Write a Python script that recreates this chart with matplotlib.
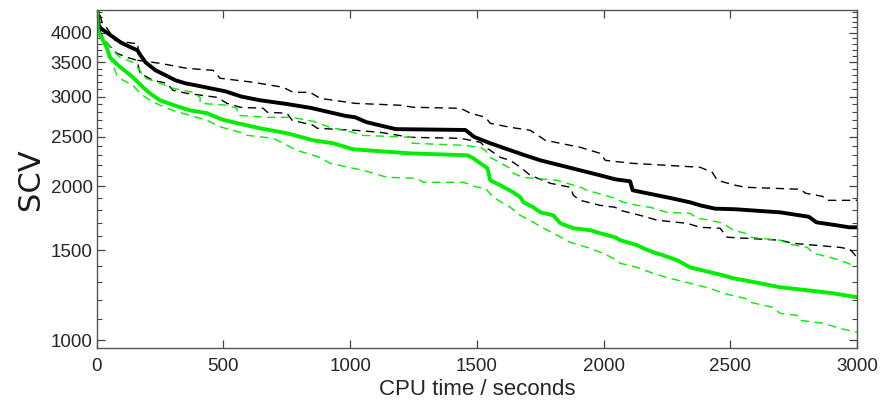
import numpy as np
import matplotlib
matplotlib.use("Agg")
import matplotlib.pyplot as plt
from matplotlib.ticker import FixedLocator, NullFormatter

# black: median and spread (dashed)
blk_x = [0, 8, 16, 55, 94, 134, 161, 173, 193, 232, 272, 311, 350, 390, 449, 508,
         570, 644, 751, 845, 912, 980, 1020, 1065, 1180, 1455, 1490, 1553, 1632, 1690,
         1751, 1830, 1908, 1987, 2046, 2105, 2115, 2212, 2270, 2342, 2385, 2440, 2520,
         2697, 2810, 2840, 2920, 2970, 3000]
blk_y = [4600, 4134, 4079, 3954, 3830, 3745, 3694, 3612, 3499, 3376, 3301, 3227, 3184,
         3156, 3113, 3071, 3000, 2950, 2900, 2850, 2800, 2750, 2732, 2672, 2590, 2580,
         2500, 2430, 2355, 2302, 2250, 2200, 2151, 2103, 2066, 2047, 1966, 1922, 1896,
         1862, 1835, 1810, 1805, 1780, 1745, 1702, 1679, 1664, 1664]

blk_hi_x = [0, 21, 41, 72, 143, 163, 163, 250, 356, 459, 487, 617, 736, 775, 842, 882,
            1020, 1198, 1250, 1436, 1475, 1534, 1553, 1632, 1711, 1770, 1829, 1908, 1987,
            2007, 2113, 2381, 2429, 2449, 2520, 2560, 2777, 2797, 2864, 2879, 3000]
blk_hi_y = [4600, 4191, 4079, 3865, 3813, 3813, 3531, 3484, 3406, 3376, 3257, 3199, 3127,
            3057, 3057, 2975, 2909, 2884, 2858, 2845, 2782, 2732, 2659, 2611, 2576, 2463,
            2430, 2386, 2322, 2250, 2220, 2181, 2132, 2056, 2011, 1993, 1975, 1940, 1913,
            1879, 1879]

blk_lo_x = [0, 16, 41, 80, 120, 159, 171, 222, 277, 301, 356, 475, 514, 566, 657, 673,
            751, 771, 854, 870, 1020, 1119, 1238, 1435, 1475, 1514, 1534, 1553, 1593, 1632,
            1672, 1711, 1790, 1869, 1881, 1908, 1987, 2046, 2066, 2145, 2212, 2330, 2381,
            2460, 2488, 2559, 2697, 2748, 2934, 2973, 3000]
blk_lo_y = [4600, 3990, 3813, 3644, 3579, 3531, 3331, 3227, 3184, 3085, 3043, 2989, 2909,
            2858, 2845, 2795, 2782, 2696, 2635, 2600, 2576, 2553, 2496, 2485, 2463, 2441,
            2386, 2354, 2280, 2250, 2181, 2103, 2029, 1993, 1922, 1879, 1837, 1821, 1796,
            1756, 1718, 1694, 1664, 1657, 1591, 1584, 1570, 1548, 1520, 1507, 1453]

# green: median and spread (dashed)
grn_x = [0, 5, 13, 21, 41, 52, 80, 104, 143, 183, 210, 250, 317, 368, 435, 494, 538,
         644, 751, 854, 933, 1012, 1119, 1238, 1463, 1486, 1514, 1542, 1553, 1593, 1644,
         1672, 1684, 1723, 1751, 1802, 1830, 1881, 1948, 1987, 2046, 2066, 2133, 2157,
         2196, 2236, 2291, 2342, 2421, 2472, 2512, 2559, 2618, 2697, 2804, 2906, 3000]
grn_y = [4600, 4008, 3950, 3899, 3728, 3579, 3469, 3392, 3271, 3127, 3043, 2949, 2871,
         2819, 2782, 2706, 2672, 2600, 2542, 2463, 2430, 2365, 2344, 2322, 2302, 2271,
         2220, 2171, 2056, 2011, 1948, 1905, 1863, 1821, 1780, 1756, 1694, 1657, 1642,
         1620, 1591, 1570, 1535, 1514, 1487, 1467, 1434, 1389, 1359, 1340, 1322, 1310,
         1293, 1270, 1253, 1236, 1214]

grn_hi_x = [0, 13, 41, 64, 92, 143, 171, 183, 250, 301, 380, 408, 408, 514, 553, 557,
            672, 771, 790, 854, 921, 1012, 1040, 1245, 1245, 1447, 1514, 1534, 1553, 1632,
            1644, 1684, 1818, 1842, 1909, 1936, 2046, 2078, 2133, 2184, 2251, 2342, 2369,
            2421, 2472, 2512, 2559, 2579, 2697, 2737, 2804, 2828, 2895, 2934, 2973, 3000]
grn_hi_y = [4600, 3990, 3813, 3694, 3579, 3499, 3376, 3271, 3184, 3113, 3057, 2989, 2909,
            2884, 2845, 2756, 2732, 2732, 2719, 2683, 2611, 2553, 2519, 2496, 2430, 2408,
            2386, 2354, 2280, 2171, 2122, 2084, 2056, 2038, 1993, 1966, 1896, 1863, 1837,
            1821, 1780, 1772, 1733, 1718, 1694, 1642, 1620, 1591, 1570, 1541, 1520, 1480,
            1453, 1434, 1409, 1396]

grn_lo_x = [0, 13, 33, 52, 64, 80, 104, 143, 171, 210, 250, 301, 368, 435, 475, 494,
            566, 593, 696, 751, 790, 881, 921, 1012, 1052, 1119, 1147, 1265, 1289, 1447,
            1502, 1534, 1565, 1632, 1672, 1723, 1763, 1802, 1869, 1936, 1999, 2046, 2066,
            2133, 2196, 2263, 2342, 2421, 2472, 2559, 2579, 2669, 2697, 2764, 2776, 2867,
            2934, 3000]
grn_lo_y = [4600, 3917, 3779, 3612, 3453, 3301, 3227, 3156, 3043, 2949, 2884, 2819, 2756,
            2696, 2635, 2611, 2553, 2519, 2485, 2408, 2354, 2280, 2220, 2171, 2151, 2103,
            2084, 2075, 2038, 2038, 1993, 1984, 1905, 1821, 1756, 1702, 1657, 1620, 1555,
            1520, 1480, 1440, 1415, 1389, 1352, 1322, 1293, 1264, 1236, 1208, 1187, 1160,
            1129, 1119, 1094, 1080, 1055, 1037]

x_ticks = [0, 500, 1000, 1500, 2000, 2500, 3000]
y_ticks = [1000, 1500, 2000, 2500, 3000, 3500, 4000]

plt.rcParams['font.family'] = ['Liberation Sans', 'DejaVu Sans']

fig = plt.figure(figsize=(8.83, 4.17), dpi=100)
ax = fig.add_axes([0.1095, 0.1655, 0.861, 0.8105])

green = '#00ee00'
ax.plot(blk_hi_x, blk_hi_y, color='k', lw=1.0, dashes=(6, 4))
ax.plot(blk_lo_x, blk_lo_y, color='k', lw=1.0, dashes=(6, 4))
ax.plot(grn_hi_x, grn_hi_y, color=green, lw=1.0, dashes=(6, 4))
ax.plot(grn_lo_x, grn_lo_y, color=green, lw=1.0, dashes=(6, 4))
ax.plot(blk_x, blk_y, color='k', lw=2.8)
ax.plot(grn_x, grn_y, color=green, lw=2.8)

ax.set_yscale('log')
ax.set_xlim(0, 3000)
ax.set_ylim(966, 4430)

ax.xaxis.set_major_locator(FixedLocator(x_ticks))
ax.yaxis.set_major_locator(FixedLocator(y_ticks))
ax.yaxis.set_minor_locator(FixedLocator([v for v in range(1000, 4500, 100) if v not in y_ticks]))
ax.yaxis.set_minor_formatter(NullFormatter())
ax.set_yticklabels([str(v) for v in y_ticks])
ax.set_xticklabels([str(v) for v in x_ticks])

for s in ax.spines.values():
    s.set_color('#555555')
    s.set_linewidth(1.0)
ax.tick_params(which='both', direction='in', top=True, right=True, colors='#444444',
               labelcolor='#262626', labelsize=13.5)
ax.tick_params(which='major', length=6, width=0.9)
ax.tick_params(which='minor', length=3.5, width=0.8)
ax.tick_params(axis='x', pad=7)
ax.tick_params(axis='y', pad=3)

ax.set_xlabel('CPU time / seconds', fontsize=16, color='#262626', labelpad=3)
ax.set_ylabel('SCV', fontsize=22, family='DejaVu Sans', color='#1a1a1a', labelpad=4)

fig.savefig('out.png', dpi=100)
